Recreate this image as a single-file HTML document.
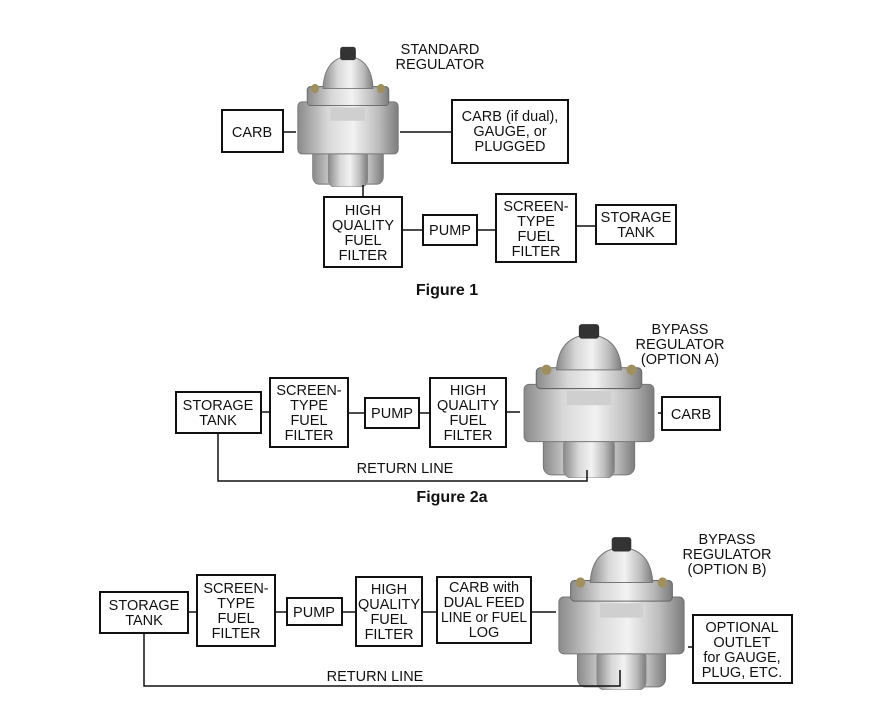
<!DOCTYPE html>
<html><head><meta charset="utf-8"><style>
html,body{margin:0;padding:0;background:#fff;}
svg{display:block;}
text{font-family:"Liberation Sans",Arial,sans-serif;font-size:14.5px;fill:#111;text-anchor:middle;}
.b{fill:#fff;stroke:#111;stroke-width:2;}
.l{stroke:#111;stroke-width:1.5;fill:none;}
.f{font-size:16px;font-weight:bold;}
</style></head><body>
<svg width="871" height="707" viewBox="0 0 871 707" xmlns="http://www.w3.org/2000/svg">
<defs>
<linearGradient id="g" x1="0" x2="1" y1="0" y2="0">
<stop offset="0" stop-color="#8a8a8a"/><stop offset="0.3" stop-color="#d8d8d8"/><stop offset="0.55" stop-color="#f2f2f2"/><stop offset="0.8" stop-color="#bdbdbd"/><stop offset="1" stop-color="#7c7c7c"/>
</linearGradient>
<symbol id="reg" viewBox="0 0 140 150" preserveAspectRatio="none">
<rect x="25" y="105" width="90" height="42" rx="8" fill="url(#g)" stroke="#777"/>
<rect x="45" y="110" width="50" height="40" rx="8" fill="url(#g)" stroke="#888"/>
<rect x="6" y="60" width="128" height="55" rx="5" fill="url(#g)" stroke="#777"/>
<rect x="18" y="44" width="104" height="20" rx="4" fill="url(#g)" stroke="#666"/>
<path d="M38 46 Q40 14 70 12 Q100 14 102 46 Z" fill="url(#g)" stroke="#777"/>
<rect x="60" y="2" width="20" height="14" rx="3" fill="#333"/>
<circle cx="28" cy="46" r="5" fill="#a09060"/><circle cx="112" cy="46" r="5" fill="#a09060"/>
<rect x="48" y="66" width="44" height="14" fill="#cfcfcf"/>
</symbol>
</defs>

<!-- Figure 1 -->
<use href="#reg" x="293" y="45" width="110" height="142"/>
<text x="440" y="54">STANDARD</text><text x="440" y="69">REGULATOR</text>
<line class="l" x1="283" y1="132" x2="296" y2="132"/>
<line class="l" x1="400" y1="132" x2="452" y2="132"/>
<line class="l" x1="363" y1="185" x2="363" y2="197"/>
<line class="l" x1="402" y1="230" x2="423" y2="230"/>
<line class="l" x1="477" y1="230" x2="496" y2="230"/>
<line class="l" x1="576" y1="226" x2="596" y2="226"/>
<rect class="b" x="222" y="110" width="61" height="42"/><text x="252" y="137">CARB</text>
<rect class="b" x="452" y="100" width="116" height="63"/><text x="510" y="121">CARB (if dual),</text><text x="510" y="136">GAUGE, or</text><text x="510" y="151">PLUGGED</text>
<rect class="b" x="324" y="197" width="78" height="70"/><text x="363" y="215">HIGH</text><text x="363" y="230">QUALITY</text><text x="363" y="245">FUEL</text><text x="363" y="260">FILTER</text>
<rect class="b" x="423" y="215" width="54" height="30"/><text x="450" y="235">PUMP</text>
<rect class="b" x="496" y="194" width="80" height="68"/><text x="536" y="211">SCREEN-</text><text x="536" y="226">TYPE</text><text x="536" y="241">FUEL</text><text x="536" y="256">FILTER</text>
<rect class="b" x="596" y="205" width="80" height="39"/><text x="636" y="222">STORAGE</text><text x="636" y="237">TANK</text>
<text class="f" x="447" y="295">Figure 1</text>

<!-- Figure 2a -->
<use href="#reg" x="518" y="322" width="142" height="156"/>
<text x="680" y="334">BYPASS</text><text x="680" y="349">REGULATOR</text><text x="680" y="364">(OPTION A)</text>
<line class="l" x1="261" y1="412" x2="270" y2="412"/>
<line class="l" x1="348" y1="413" x2="365" y2="413"/>
<line class="l" x1="419" y1="413" x2="430" y2="413"/>
<line class="l" x1="506" y1="412" x2="520" y2="412"/>
<line class="l" x1="658" y1="413" x2="662" y2="413"/>
<polyline class="l" points="218,433 218,481 587,481 587,470"/>
<rect class="b" x="176" y="392" width="85" height="41"/><text x="218" y="410">STORAGE</text><text x="218" y="425">TANK</text>
<rect class="b" x="270" y="378" width="78" height="69"/><text x="309" y="395">SCREEN-</text><text x="309" y="410">TYPE</text><text x="309" y="425">FUEL</text><text x="309" y="440">FILTER</text>
<rect class="b" x="365" y="398" width="54" height="30"/><text x="392" y="418">PUMP</text>
<rect class="b" x="430" y="378" width="76" height="69"/><text x="468" y="395">HIGH</text><text x="468" y="410">QUALITY</text><text x="468" y="425">FUEL</text><text x="468" y="440">FILTER</text>
<rect class="b" x="662" y="397" width="58" height="33"/><text x="691" y="419">CARB</text>
<text x="405" y="473">RETURN LINE</text>
<text class="f" x="452" y="502">Figure 2a</text>

<!-- Figure 2b -->
<use href="#reg" x="553" y="535" width="137" height="155"/>
<text x="727" y="544">BYPASS</text><text x="727" y="559">REGULATOR</text><text x="727" y="574">(OPTION B)</text>
<line class="l" x1="188" y1="612" x2="197" y2="612"/>
<line class="l" x1="275" y1="612" x2="287" y2="612"/>
<line class="l" x1="342" y1="612" x2="356" y2="612"/>
<line class="l" x1="422" y1="612" x2="437" y2="612"/>
<line class="l" x1="531" y1="612" x2="556" y2="612"/>
<line class="l" x1="688" y1="647" x2="693" y2="647"/>
<polyline class="l" points="144,633 144,686 620,686 620,670"/>
<rect class="b" x="100" y="592" width="88" height="41"/><text x="144" y="610">STORAGE</text><text x="144" y="625">TANK</text>
<rect class="b" x="197" y="575" width="78" height="71"/><text x="236" y="593">SCREEN-</text><text x="236" y="608">TYPE</text><text x="236" y="623">FUEL</text><text x="236" y="638">FILTER</text>
<rect class="b" x="287" y="598" width="55" height="27"/><text x="314" y="617">PUMP</text>
<rect class="b" x="356" y="577" width="66" height="69"/><text x="389" y="594">HIGH</text><text x="389" y="609">QUALITY</text><text x="389" y="624">FUEL</text><text x="389" y="639">FILTER</text>
<rect class="b" x="437" y="577" width="94" height="66"/><text x="484" y="592">CARB with</text><text x="484" y="607">DUAL FEED</text><text x="484" y="622" textLength="86" lengthAdjust="spacingAndGlyphs">LINE or FUEL</text><text x="484" y="637">LOG</text>
<rect class="b" x="693" y="615" width="99" height="68"/><text x="742" y="632">OPTIONAL</text><text x="742" y="647">OUTLET</text><text x="742" y="662">for GAUGE,</text><text x="742" y="677">PLUG, ETC.</text>
<text x="375" y="681">RETURN LINE</text>
</svg>
</body></html>
